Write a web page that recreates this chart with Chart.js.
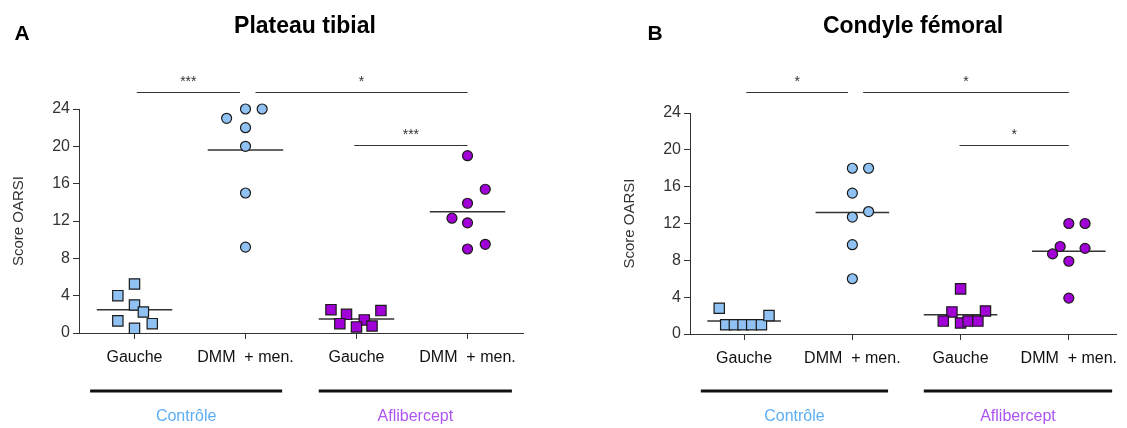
<!DOCTYPE html>
<html>
<head>
<meta charset="utf-8">
<script src="https://cdn.jsdelivr.net/npm/chart.js@4"></script>
<style>
  html, body { margin: 0; padding: 0; background: #fff; }
  #wrap { position: relative; width: 1127px; height: 428px; }
  #chartA { position: absolute; left: 0; top: 0; }
  #chartB { position: absolute; left: 563px; top: 0; }
</style>
</head>
<body>
<div id="wrap">
  <canvas id="chartA" width="563" height="428"></canvas>
  <canvas id="chartB" width="564" height="428"></canvas>
</div>
<script>
// categories / groups
const categories = ["Gauche", "DMM  + men.", "Gauche", "DMM  + men."];
const groups = ["Contrôle", "Aflibercept"];
const yTicks = [0, 4, 8, 12, 16, 20, 24];

// A - plateau tibial
const tibiaCtrlGauche = [4.0, 5.25, 3.0, 2.25, 1.3, 1.0, 0.5];
const tibiaCtrlDmm = [23, 24, 24, 22, 20, 15, 9.2];
const tibiaAfliGauche = [2.5, 2.0, 1.0, 1.4, 0.65, 0.75, 2.4];
const tibiaAfliDmm = [19, 15.4, 13.9, 12.3, 11.8, 9.0, 9.5];
const tibiaMedians = [2.5, 19.6, 1.5, 13.0];
const tibiaStars = ["***", "*", "***"];

// B - condyle femoral
const femurCtrlGauche = [2.8, 1, 1, 1, 1, 1, 2.0];
const femurCtrlDmm = [18, 18, 15.3, 12.7, 13.3, 9.7, 6.0];
const femurAfliGauche = [4.9, 2.4, 1.4, 1.2, 1.4, 1.4, 2.5];
const femurAfliDmm = [12, 12, 9.5, 8.7, 9.3, 7.9, 3.9];
const femurMedians = [1.4, 13.2, 2.1, 9.0];
const femurStars = ["*", "*", "*"];

// horizontal spread of the dots inside each column
const tibiaJitter = [
  [-0.15, 0, 0, 0.08, -0.15, 0.16, 0],
  [-0.17, 0, 0.15, 0, 0, 0, 0],
  [-0.23, -0.09, -0.15, 0.07, 0, 0.14, 0.22],
  [0, 0.16, 0, -0.14, 0, 0, 0.16]
];
const femurJitter = [
  [-0.23, -0.17, -0.09, -0.01, 0.07, 0.16, 0.23],
  [0, 0.15, 0, 0, 0.15, 0, 0],
  [0, -0.08, -0.16, 0, 0.07, 0.16, 0.23],
  [0, 0.15, -0.08, -0.15, 0.15, 0, 0]
];

const BLUE = "#8fc1f2";
const PURPLE = "#a100d6";
const FONT = "'Liberation Sans', Arial, sans-serif";

function buildDatasets(series, jitter, medians) {
  const ds = [];
  series.forEach((vals, i) => {
    ds.push({
      data: vals.map((v, k) => ({ x: i + jitter[i][k], y: v })),
      pointStyle: i % 2 === 0 ? "rect" : "circle",
      pointRadius: i % 2 === 0 ? 7.3 : 5,
      backgroundColor: i < 2 ? BLUE : PURPLE,
      borderColor: "#1a1a1a",
      borderWidth: 1.2,
      showLine: false,
      clip: false,
      order: 1
    });
    ds.push({
      data: [{ x: i - 0.34, y: medians[i] }, { x: i + 0.34, y: medians[i] }],
      showLine: true,
      borderColor: "#333",
      borderWidth: 1.5,
      pointRadius: 0,
      clip: false,
      order: 2
    });
  });
  return ds;
}

function makeDeco(cfg) {
  return {
    id: "deco",
    afterDraw(chart) {
      const c = chart.ctx;
      const x = chart.scales.x;
      const y = chart.scales.y;
      c.save();
      // letter + title
      c.fillStyle = "#000";
      c.textAlign = "center";
      c.textBaseline = "middle";
      c.font = "bold 21px " + FONT;
      c.fillText(cfg.letter, cfg.letterX, 34);
      c.font = "bold 23px " + FONT;
      c.fillText(cfg.title, cfg.titleX, 27);
      // significance brackets
      cfg.brackets.forEach((b, i) => {
        const py = Math.round(y.getPixelForValue(b[2])) + 0.5;
        c.strokeStyle = "#333";
        c.lineWidth = 1.2;
        c.beginPath();
        c.moveTo(x.getPixelForValue(b[0]), py);
        c.lineTo(x.getPixelForValue(b[1]), py);
        c.stroke();
        c.fillStyle = "#333";
        c.font = "14px " + FONT;
        c.fillText(cfg.stars[i], (x.getPixelForValue(b[0]) + x.getPixelForValue(b[1])) / 2, py - 10);
      });
      // group bars underneath
      [[-0.4, 1.33], [1.66, 3.4]].forEach((g, i) => {
        const x0 = x.getPixelForValue(g[0]);
        const x1 = Math.min(x.getPixelForValue(g[1]), chart.width - 4);
        c.strokeStyle = "#111";
        c.lineWidth = 3;
        c.beginPath();
        c.moveTo(x0, 391);
        c.lineTo(x1, 391);
        c.stroke();
        c.fillStyle = i === 0 ? "#5aaef6" : "#ad55f2";
        c.font = "16px " + FONT;
        c.fillText(groups[i], (x0 + x1) / 2, 417);
      });
      c.restore();
    }
  };
}

function makeChart(id, series, jitter, medians, cfg) {
  return new Chart(document.getElementById(id), {
    type: "scatter",
    data: { datasets: buildDatasets(series, jitter, medians) },
    options: {
      responsive: false,
      animation: false,
      devicePixelRatio: 1,
      layout: { padding: { top: cfg.top, left: cfg.left, right: cfg.right, bottom: 0 } },
      plugins: { legend: { display: false }, tooltip: { enabled: false } },
      scales: {
        x: {
          type: "linear",
          min: -0.5,
          max: cfg.xMax,
          afterBuildTicks: (s) => { s.ticks = [0, 1, 2, 3].map((v) => ({ value: v })); },
          afterFit: (s) => { s.height = cfg.xHeight; },
          grid: { drawOnChartArea: false, drawTicks: true, tickLength: 6, color: "#333" },
          border: { color: "#333", width: 1 },
          ticks: {
            callback: (v) => categories[v],
            color: "#111",
            font: { family: FONT, size: 16 },
            padding: 9,
            maxRotation: 0,
            autoSkip: false
          }
        },
        y: {
          min: 0,
          max: 24,
          afterBuildTicks: (s) => { s.ticks = yTicks.map((v) => ({ value: v })); },
          afterFit: (s) => { s.width = 79; },
          grid: { drawOnChartArea: false, drawTicks: true, tickLength: 6, color: "#333" },
          border: { color: "#333", width: 1 },
          ticks: { color: "#333", font: { family: FONT, size: 16 }, padding: 3 },
          title: {
            display: true,
            text: "Score OARSI",
            color: "#333",
            font: { family: FONT, size: 15 },
            padding: { top: 10, bottom: 4 }
          }
        }
      }
    },
    plugins: [makeDeco(cfg)]
  });
}

makeChart("chartA",
  [tibiaCtrlGauche, tibiaCtrlDmm, tibiaAfliGauche, tibiaAfliDmm], tibiaJitter, tibiaMedians,
  {
    letter: "A", letterX: 22, title: "Plateau tibial", titleX: 305,
    top: 109, left: 0, right: 40, xMax: 3.5, xHeight: 95,
    brackets: [[0.02, 0.95, 25.8], [1.09, 3.0, 25.8], [1.98, 3.0, 20.1]],
    stars: tibiaStars
  });

makeChart("chartB",
  [femurCtrlGauche, femurCtrlDmm, femurAfliGauche, femurAfliDmm], femurJitter, femurMedians,
  {
    letter: "B", letterX: 92, title: "Condyle fémoral", titleX: 350,
    top: 113, left: 48, right: 0, xMax: 3.44, xHeight: 94,
    brackets: [[0.02, 0.96, 26.3], [1.1, 3.0, 26.3], [1.99, 3.0, 20.5]],
    stars: femurStars
  });
</script>
</body>
</html>
